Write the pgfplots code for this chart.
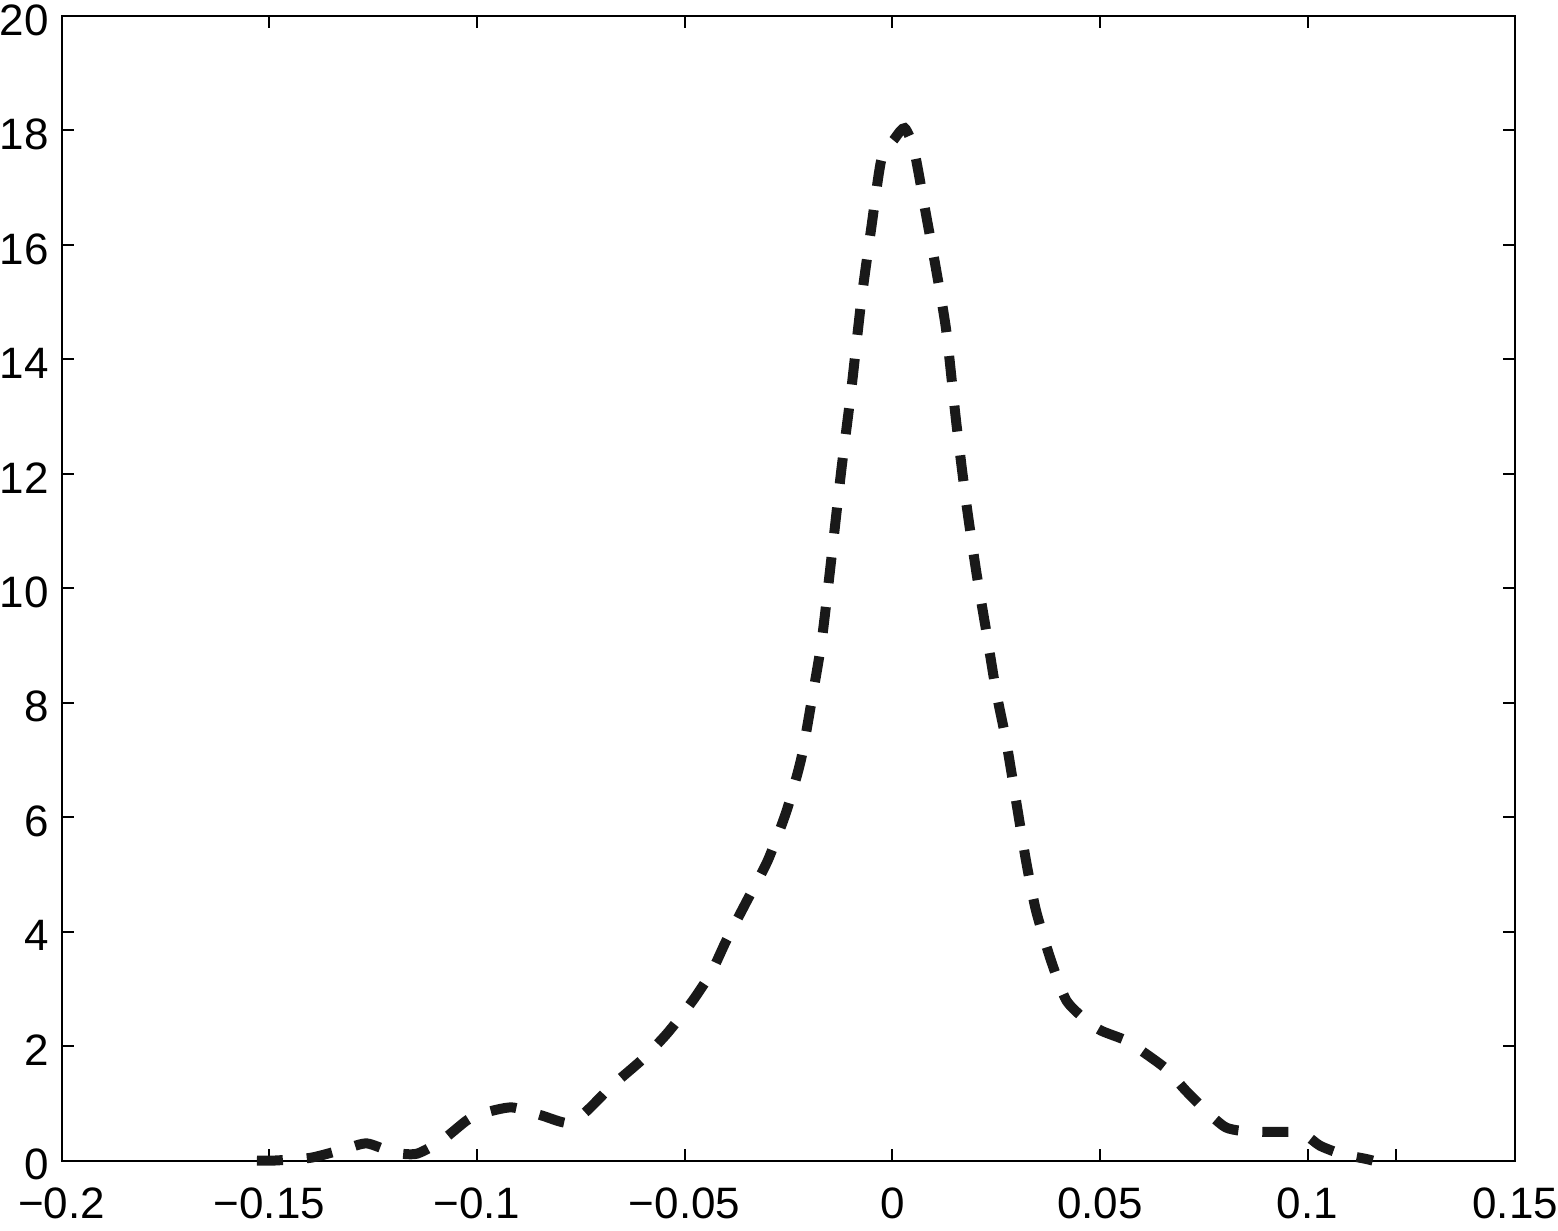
\documentclass[border=0pt]{standalone}
\usepackage{pgfplots}
\pgfplotsset{compat=1.18}
\usepackage{fontspec}
\setmainfont{Liberation Sans}

% density estimate
\begin{document}
\begin{tikzpicture}
\begin{axis}[
    scale only axis,
    width=363.5pt, height=286.25pt,
    xmin=-0.2, xmax=0.15,
    ymin=0, ymax=20,
    xtick={-0.2,-0.15,-0.1,-0.05,0,0.05,0.1,0.15},
    xticklabels={−0.2,−0.15,−0.1,−0.05,0,0.05,0.1,0.15},
    ytick={0,2,...,20},
    tick align=inside,
    major tick length=3pt,
    axis line style={line width=0.5pt},
    every tick/.style={black, line width=0.5pt},
    tick label style={font=\fontsize{11}{13}\selectfont, inner sep=0pt},
    /pgf/number format/assume math mode=true,
    xticklabel style={yshift=-6.5pt, text depth=3pt},
    yticklabel style={xshift=-3pt, yshift=-1pt},
    scaled x ticks=false,
    clip=false,
]
\addplot[black!90, line width=2.5pt, dash pattern=on 6.5pt off 6pt, smooth, tension=0.4] coordinates {
    (-0.1530,0) (-0.1490,0) (-0.1400,0.05) (-0.1320,0.20) (-0.1265,0.30)
    (-0.1200,0.14) (-0.1145,0.12) (-0.1085,0.35) (-0.1025,0.70)
    (-0.0990,0.82) (-0.0917,0.93) (-0.0845,0.79) (-0.0784,0.66)
    (-0.0740,0.84) (-0.0676,1.30) (-0.0600,1.78) (-0.0540,2.24)
    (-0.0480,2.80) (-0.0435,3.30) (-0.0400,3.84) (-0.0350,4.54)
    (-0.0300,5.24) (-0.0255,6.10) (-0.0220,7.00) (-0.0195,8.00)
    (-0.0170,9.08) (-0.0147,10.50) (-0.0123,12.05) (-0.0099,13.45)
    (-0.0075,15.00) (-0.0050,16.33) (-0.0026,17.50) (0.0005,17.85)
    (0.0030,18.04) (0.0053,17.64) (0.0082,16.50) (0.0106,15.55)
    (0.0130,14.50) (0.0154,12.90) (0.0178,11.50) (0.0202,10.30)
    (0.0226,9.26) (0.0250,8.20) (0.0274,7.34) (0.0298,6.29)
    (0.0322,5.24) (0.0346,4.37) (0.0382,3.50) (0.0419,2.80)
    (0.0467,2.45) (0.0503,2.27) (0.0563,2.10) (0.0600,1.92)
    (0.0660,1.60) (0.0707,1.22) (0.0767,0.79) (0.0803,0.58)
    (0.0840,0.52) (0.0900,0.50) (0.0960,0.50) (0.0996,0.44)
    (0.1030,0.26) (0.1080,0.12) (0.1140,0.03) (0.1157,0)
};
\draw[line width=0.5pt] (axis cs:0.1213,0) -- ([yshift=3pt]axis cs:0.1213,0);
\path ([yshift=4pt]rel axis cs:0,1) coordinate (topmargin);
\end{axis}
\end{tikzpicture}
\end{document}
